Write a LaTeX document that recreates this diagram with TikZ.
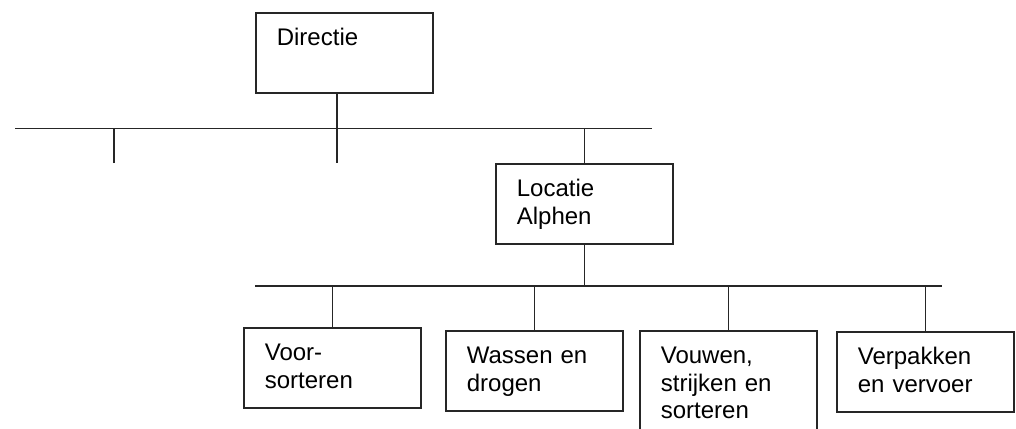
\documentclass[tikz,border=0pt]{standalone}
\usepackage{fontspec}
\setmainfont{Liberation Sans}
\usetikzlibrary{positioning}
\tikzset{
  unit/.style={rectangle, draw=black!85, line width=1.25pt, fill=white, anchor=north west,
    align=left, text width=101.25pt, inner xsep=15.75pt, inner ysep=0pt,
    text height=24.75pt, text depth=35.25pt, font=\fontsize{18}{20.6}\selectfont},
  tall/.style={text depth=60pt},
  bus/.style={draw=black!85, line width=1.25pt}
}

\begin{document}
\begin{tikzpicture}[x=0.75pt, y=-0.75pt]
  \useasboundingbox (0,0) rectangle (1016,428);
  \node[unit] (dir) at (255,12) {Directie};
  \node[unit] (loc) at (495,163) {Locatie\\Alphen};
  \node[unit] (voor) at (243,327) {Voor-\\sorteren};
  \node[unit] (was) at (445,330) {Wassen en\\drogen};
  \node[unit, tall] (vouw) at (639,330) {Vouwen,\\strijken en\\sorteren};
  \node[unit] (verp) at (836,331) {Verpakken\\en vervoer};
  \coordinate (busL) at (15,128.5);
  \coordinate (busR) at (652,128.5);
  \coordinate (t1) at (114,163);
  \coordinate (t2) at (337,163);
  \coordinate (subL) at (255,286);
  \coordinate (subR) at (942,286);
  \draw[bus] (busL) -- (busR);
  \draw[bus] (t1) -- (t1 |- busL);
  \draw[bus] (dir.south -| t2) -- (t2);
  \draw[bus] (loc.north) -- (loc.north |- busL);
  \draw[bus] (subL) -- (subR);
  \draw[bus] (loc.south) -- (loc.south |- subL);
  \draw[bus] (voor.north) -- (voor.north |- subL);
  \draw[bus] (was.north) -- (was.north |- subL);
  \draw[bus] (vouw.north) -- (vouw.north |- subL);
  \draw[bus] (verp.north) -- (verp.north |- subL);
\end{tikzpicture}
\end{document}
